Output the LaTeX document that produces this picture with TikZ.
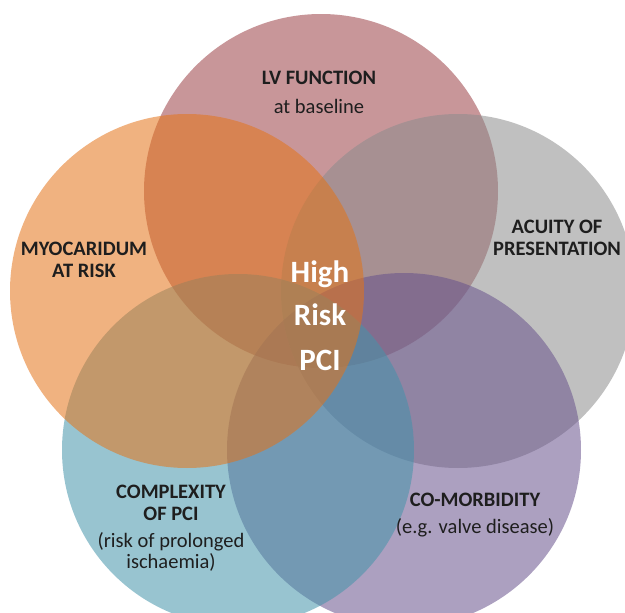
\documentclass[tikz,border=0pt]{standalone}
\usepackage{fontspec}
\setmainfont{Carlito}
\usepackage{xcolor}
\usepackage{tikz}
\definecolor{ink}{HTML}{1E1E1E}
\definecolor{lvred}{HTML}{9B4046}
\definecolor{acugray}{HTML}{8C8C8C}
\definecolor{morbpurple}{HTML}{68528C}
\definecolor{cplxblue}{HTML}{4494AA}
\definecolor{myoorange}{HTML}{E47318}
\tikzset{
  ring/.style={draw=none, fill opacity=0.55},
  head/.style={text=ink, anchor=base, font=\fontsize{20.5}{24}\selectfont\bfseries},
  sub/.style={text=ink, anchor=base, font=\fontsize{20.5}{24}\selectfont},
  core/.style={text=white, anchor=base, font=\fontsize{31}{38}\selectfont\bfseries}
}

\begin{document}
\begin{tikzpicture}[x=1pt, y=-1pt]
  \useasboundingbox (0,0) rectangle (625,613);
  \clip (0,0) rectangle (625,613);
  % circles, drawn back to front
  \fill[ring, lvred] (321,191) circle (177);
  \fill[ring, acugray] (458,291) circle (177);
  \fill[ring, morbpurple] (404,450) circle (177);
  \fill[ring, cplxblue] (238,450) circle (176);
  \fill[ring, myoorange] (187,291) circle (177);
  % labels
  \node[head] (lv) at (319,84) {LV FUNCTION};
  \node[sub] (lvsub) at (319,113) {at baseline};
  \node[head] (myo) at (84,255) {MYOCARIDUM};
  \node[head] (myob) at (84,277) {AT RISK};
  \node[head] (acu) at (557,233) {ACUITY OF};
  \node[head] (acub) at (557,255) {PRESENTATION};
  \node[head] (cplx) at (171,498) {COMPLEXITY};
  \node[head] (cplxb) at (171,520) {OF PCI};
  \node[sub] (cplxsub) at (171,547) {(risk of prolonged};
  \node[sub] (cplxsubb) at (171,568) {ischaemia)};
  \node[head] (morb) at (475,506) {CO-MORBIDITY};
  \node[sub] (morbsub) at (475,533) {(e.g. valve disease)};
  % centre
  \node[core] (high) at (320,282) {High};
  \node[core] (risk) at (320,325) {Risk};
  \node[core] (pci) at (320,370) {PCI};
\end{tikzpicture}
\end{document}
